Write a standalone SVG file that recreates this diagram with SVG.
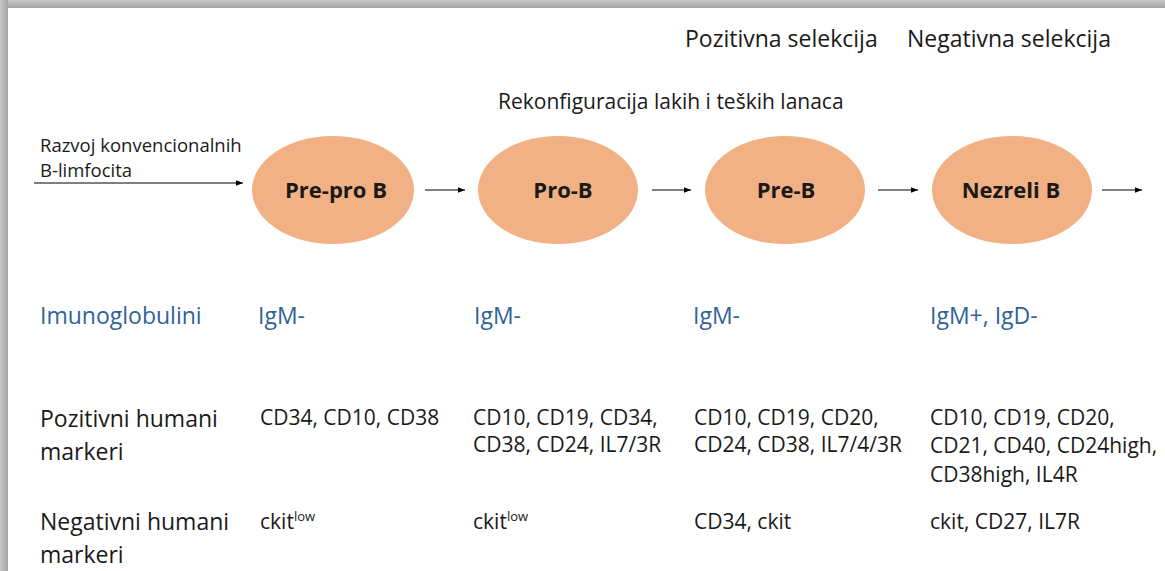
<svg xmlns="http://www.w3.org/2000/svg" width="1165" height="571" viewBox="0 0 1165 571">
<defs>
<linearGradient id="gTop" x1="0" y1="0" x2="0" y2="1"><stop offset="0" stop-color="#c8c8c8"/><stop offset="1" stop-color="#a6a6a6"/></linearGradient>
<linearGradient id="gLeft" x1="0" y1="0" x2="1" y2="0"><stop offset="0" stop-color="#c8c8c8"/><stop offset="1" stop-color="#a6a6a6"/></linearGradient>
<marker id="ah" viewBox="0 0 10 10" refX="10" refY="5" markerWidth="7" markerHeight="7" orient="auto" markerUnits="userSpaceOnUse"><path d="M0,1 L10,5 L0,9 Z" fill="#000"/></marker>
<style>
text{font-family:"Open Sans","Liberation Sans",sans-serif;fill:#1a1a1a}
.hdr{font-size:23px}
.rk{font-size:21px}
.sm{font-size:18.5px}
.nd{font-size:22px;font-weight:700;text-anchor:middle}
.blue{font-size:23px;fill:#2f6496}
.lab{font-size:23px}
.val{font-size:21px}
.sup{font-size:13px}
.cell{fill:#f2b184}
.ar{stroke:#000;stroke-width:1.2;fill:none;marker-end:url(#ah)}
</style>
</defs>
<rect width="1165" height="571" fill="#ffffff"/>
<rect x="0" y="0" width="1165" height="8" fill="url(#gTop)"/>
<rect x="0" y="0" width="8" height="571" fill="url(#gLeft)"/>

<g id="headers">
<text class="hdr" x="685" y="47">Pozitivna selekcija</text>
<text class="hdr" x="907" y="47">Negativna selekcija</text>
<text class="rk" x="498" y="109">Rekonfiguracija lakih i teških lanaca</text>
<text class="sm" x="40" y="152">Razvoj konvencionalnih</text>
<text class="sm" x="40" y="177">B-limfocita</text>
</g>

<g id="connectors">
<line class="ar" x1="34" y1="183" x2="243" y2="183"/>
<line class="ar" x1="425" y1="190" x2="465" y2="190"/>
<line class="ar" x1="652" y1="190" x2="691" y2="190"/>
<line class="ar" x1="878" y1="190" x2="918" y2="190"/>
<line class="ar" x1="1102" y1="190" x2="1142" y2="190"/>
</g>

<g id="node-prepro">
<ellipse class="cell" cx="333" cy="190" rx="81" ry="54"/>
<text class="nd" x="336" y="198">Pre-pro B</text>
</g>
<g id="node-pro">
<ellipse class="cell" cx="558" cy="190" rx="80" ry="54"/>
<text class="nd" x="563" y="198">Pro-B</text>
</g>
<g id="node-pre">
<ellipse class="cell" cx="785" cy="190" rx="80" ry="54"/>
<text class="nd" x="786" y="198">Pre-B</text>
</g>
<g id="node-nezreli">
<ellipse class="cell" cx="1012" cy="190" rx="80" ry="54"/>
<text class="nd" x="1011" y="198">Nezreli B</text>
</g>

<g id="row-ig">
<text class="blue" x="40" y="324">Imunoglobulini</text>
<text class="blue" x="258" y="324">IgM-</text>
<text class="blue" x="474" y="324">IgM-</text>
<text class="blue" x="693" y="324">IgM-</text>
<text class="blue" x="930" y="324">IgM+, IgD-</text>
</g>

<g id="row-pos">
<text class="lab" x="40" y="427">Pozitivni humani</text>
<text class="lab" x="40" y="460">markeri</text>
<text class="val" x="260" y="425">CD34, CD10, CD38</text>
<text class="val" x="473" y="425">CD10, CD19, CD34,</text>
<text class="val" x="473" y="452">CD38, CD24, IL7/3R</text>
<text class="val" x="694" y="425">CD10, CD19, CD20,</text>
<text class="val" x="694" y="452">CD24, CD38, IL7/4/3R</text>
<text class="val" x="930" y="425">CD10, CD19, CD20,</text>
<text class="val" x="930" y="453">CD21, CD40, CD24high,</text>
<text class="val" x="930" y="482">CD38high, IL4R</text>
</g>

<g id="row-neg">
<text class="lab" x="40" y="530">Negativni humani</text>
<text class="lab" x="40" y="563">markeri</text>
<text class="val" x="260" y="529">ckit<tspan class="sup" dy="-8">low</tspan></text>
<text class="val" x="473" y="529">ckit<tspan class="sup" dy="-8">low</tspan></text>
<text class="val" x="694" y="529">CD34, ckit</text>
<text class="val" x="930" y="529">ckit, CD27, IL7R</text>
</g>
</svg>
